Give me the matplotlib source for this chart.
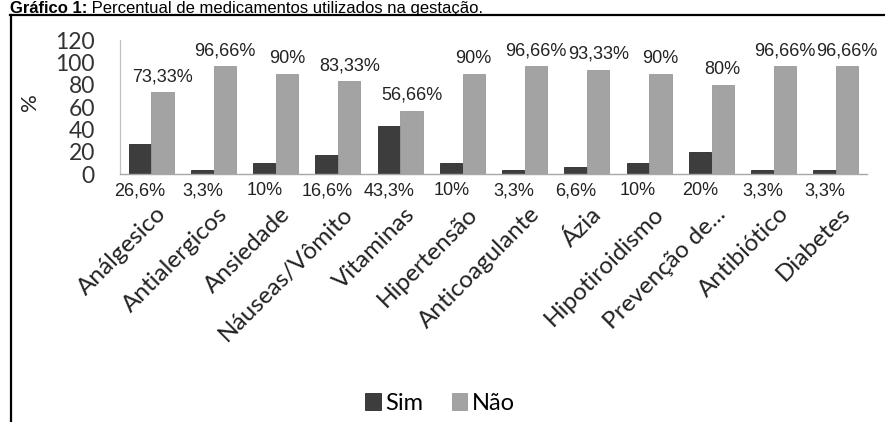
import numpy as np
import matplotlib
matplotlib.use("Agg")
import matplotlib.pyplot as plt
from matplotlib.lines import Line2D
import matplotlib.transforms as mtransforms

categorias = ["Análgesico", "Antialergicos", "Ansiedade", "Náuseas/Vômito",
              "Vitaminas", "Hipertensão", "Anticoagulante", "Ázia",
              "Hipotiroidismo", "Prevenção de...", "Antibiótico", "Diabetes"]
sim = [26.6, 3.3, 10, 16.6, 43.3, 10, 3.3, 6.6, 10, 20, 3.3, 3.3]
nao = [73.33, 96.66, 90, 83.33, 56.66, 90, 96.66, 93.33, 90, 80, 96.66, 96.66]
sim_txt = ["26,6%", "3,3%", "10%", "16,6%", "43,3%", "10%", "3,3%", "6,6%",
           "10%", "20%", "3,3%", "3,3%"]
nao_txt = ["73,33%", "96,66%", "90%", "83,33%", "56,66%", "90%", "96,66%",
           "93,33%", "90%", "80%", "96,66%", "96,66%"]
yticks = [0, 20, 40, 60, 80, 100, 120]

W, H = 885, 422
fig = plt.figure(figsize=(W / 100, H / 100), dpi=100)

# moldura (linha de cima e da esquerda)
ytop = 1 - 15 / H
fig.add_artist(Line2D([10 / W, 1], [ytop, ytop], transform=fig.transFigure,
                      color="black", lw=1.6))
fig.add_artist(Line2D([11 / W, 11 / W], [0, ytop], transform=fig.transFigure,
                      color="black", lw=1.6))

# titulo: parte em negrito + resto normal
t1 = fig.text(10 / W, 1 - 13 / H, "Gráfico 1:", fontsize=12, fontweight="bold",
              family="Liberation Sans", va="baseline", ha="left")
renderer = fig.canvas.get_renderer()
x_fim = t1.get_window_extent(renderer).x1 / W
fig.text(x_fim, 1 - 13 / H, " Percentual de medicamentos utilizados na gestação.",
         fontsize=12, family="Liberation Sans", va="baseline", ha="left")

ax = fig.add_axes([120 / W, 248 / H, 747 / W, 134 / H])
x = np.arange(len(categorias))
w = 0.355
b_sim = ax.bar(x - w / 2 - 0.005, sim, w, color="#3d3d3d", edgecolor="#2a2a2a",
               lw=0.6, label="Sim")
b_nao = ax.bar(x + w / 2 + 0.005, nao, w, color="#a3a3a3", edgecolor="#999999",
               lw=0.6, label="Não")

ax.bar_label(b_nao, labels=nao_txt, padding=5, fontsize=13,
             family="Liberation Sans", color="#222222")
for xi, lab in zip(x - w / 2, sim_txt):
    ax.annotate(lab, xy=(xi, 0), xytext=(0, -6), textcoords="offset points",
                ha="center", va="top", fontsize=13, family="Liberation Sans",
                color="#222222")

ax.set_xlim(-0.5, 11.5)
ax.set_ylim(0, 120)
ax.set_yticks(yticks)
ax.set_yticklabels([str(v) for v in yticks], family="Lato", fontsize=16.5,
                   color="#333333")
ax.tick_params(axis="y", length=0, pad=18)
ax.set_xticks(x)
ax.set_xticklabels(categorias, rotation=45, ha="right", va="top",
                   rotation_mode="anchor", family="Lato", fontsize=17.5,
                   color="#222222")
ax.tick_params(axis="x", length=0, pad=21)
off = mtransforms.ScaledTranslation(4 / 100, 0, fig.dpi_scale_trans)
for lab in ax.get_xticklabels():
    lab.set_transform(lab.get_transform() + off)

for s in ["top", "right"]:
    ax.spines[s].set_visible(False)
ax.spines["left"].set_color("#c0c0c0")
ax.spines["bottom"].set_color("#a8a8a8")
ax.spines["left"].set_linewidth(0.9)
ax.spines["bottom"].set_linewidth(1.0)

ax.set_ylabel("%", family="Lato", fontsize=16, color="#222222", va="center")
ax.yaxis.set_label_coords(-0.12, 0.54)

fig.legend(handles=[b_sim, b_nao], labels=["Sim", "Não"], loc="center",
           bbox_to_anchor=(440 / W, 19 / H), ncol=2, frameon=False,
           prop={"family": "Lato", "size": 17}, handlelength=0.65,
           handleheight=0.7, handletextpad=0.2, columnspacing=1.2)

fig.savefig("out.png", dpi=100)
